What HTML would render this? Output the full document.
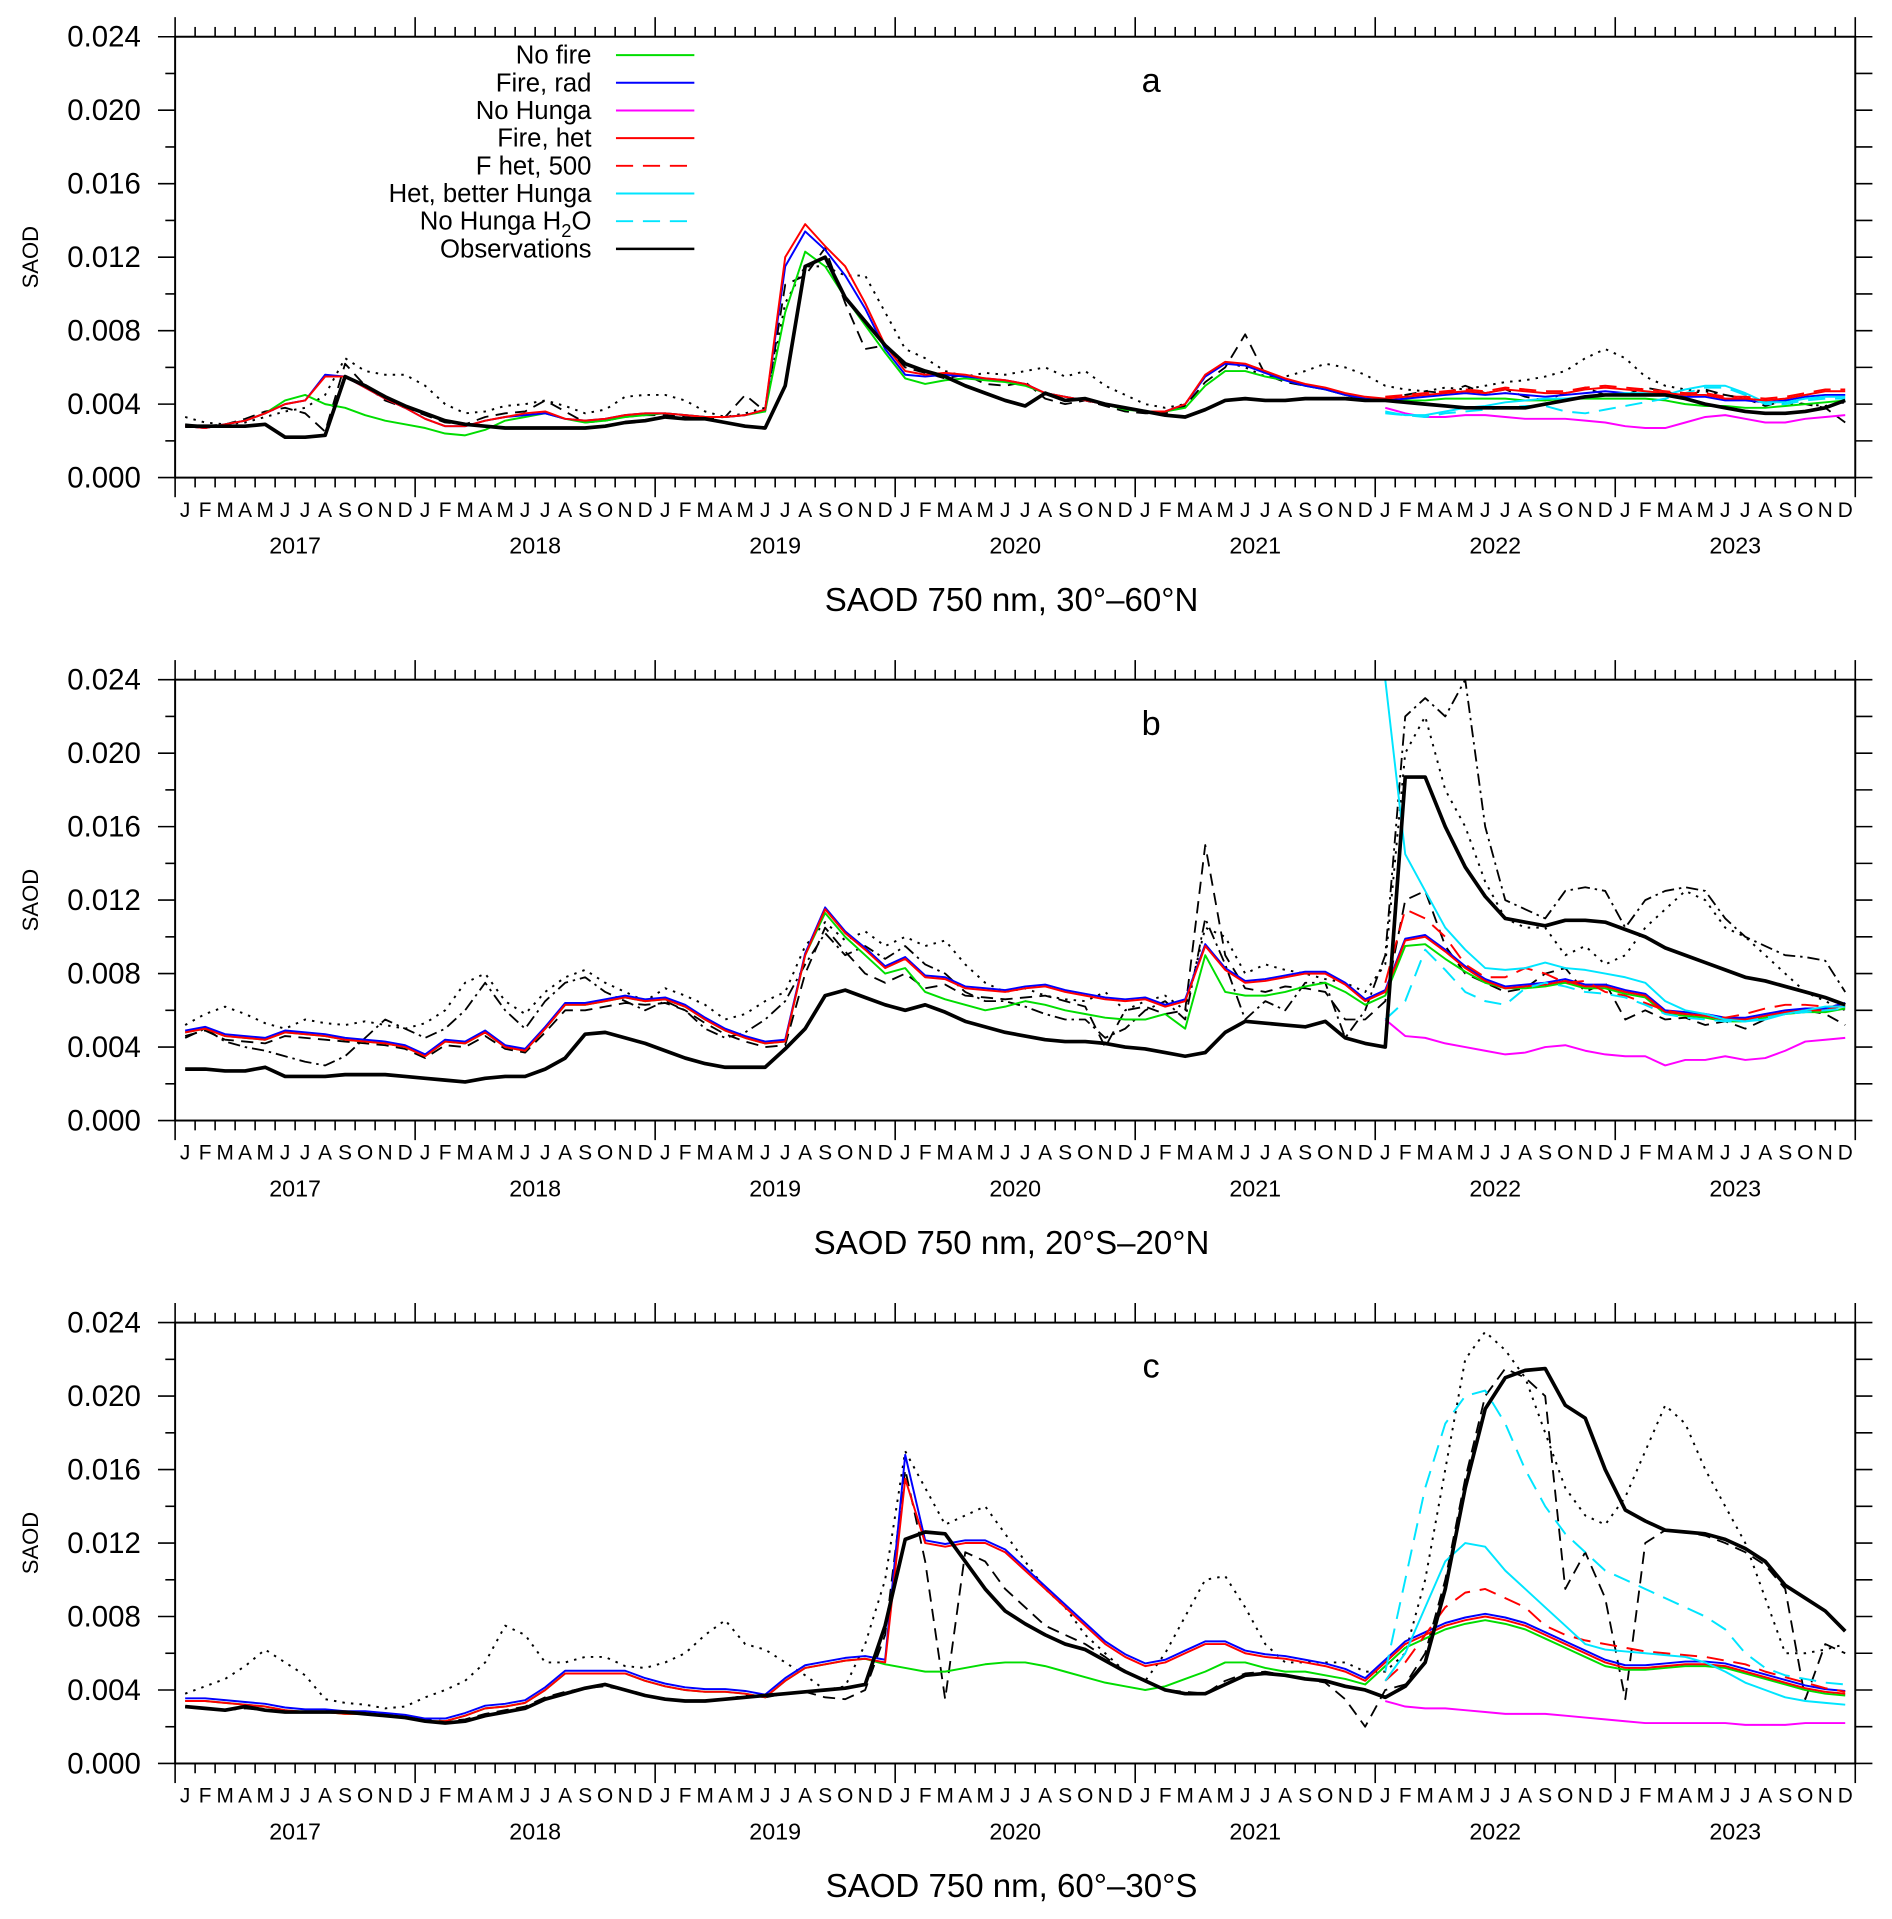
<!DOCTYPE html>
<html><head><meta charset="utf-8"><style>
html,body{margin:0;padding:0;background:#fff}
svg{display:block}
text{font-family:"Liberation Sans","DejaVu Sans",sans-serif;fill:#000}
</style></head><body>
<svg id="chart" width="1892" height="1919" viewBox="0 0 1545 1567" preserveAspectRatio="none" xmlns="http://www.w3.org/2000/svg"></svg>
<script>
const months=["J","F","M","A","M","J","J","A","S","O","N","D"];
const years=[2017,2018,2019,2020,2021,2022,2023];
const yTicks=[0,0.004,0.008,0.012,0.016,0.020,0.024];
const yTickLabels=["0.000","0.004","0.008","0.012","0.016","0.020","0.024"];
// panel a (units of 0.001)
const obsA=[2.8,2.8,2.8,2.8,2.9,2.2,2.2,2.3,5.5,5.0,4.4,3.9,3.5,3.1,2.9,2.8,2.7,2.7,2.7,2.7,2.7,2.8,3.0,3.1,3.3,3.2,3.2,3.0,2.8,2.7,5.0,11.5,12.0,9.8,8.5,7.2,6.2,5.8,5.5,5.0,4.6,4.2,3.9,4.6,4.2,4.3,4.0,3.8,3.6,3.4,3.3,3.7,4.2,4.3,4.2,4.2,4.3,4.3,4.3,4.2,4.2,4.1,4.0,3.9,3.8,3.8,3.8,3.8,4.0,4.2,4.4,4.5,4.5,4.5,4.5,4.3,4.0,3.8,3.6,3.5,3.5,3.6,3.8,4.2];
const noFireA=[2.8,2.7,2.9,3.1,3.5,4.2,4.5,4.0,3.8,3.4,3.1,2.9,2.7,2.4,2.3,2.6,3.1,3.3,3.5,3.2,3.0,3.1,3.3,3.4,3.5,3.4,3.3,3.3,3.4,3.6,9.0,12.3,11.5,9.8,8.3,6.8,5.4,5.1,5.3,5.4,5.3,5.2,5.0,4.6,4.4,4.2,4.0,3.7,3.6,3.6,3.8,5.0,5.8,5.8,5.5,5.3,5.0,4.8,4.5,4.3,4.2,4.2,4.2,4.3,4.3,4.3,4.3,4.2,4.2,4.3,4.3,4.3,4.3,4.3,4.2,4.0,3.9,3.9,3.8,3.8,3.9,4.0,4.1,4.2];
const fireRadA=[2.8,2.7,2.9,3.1,3.5,4.0,4.2,5.6,5.5,4.9,4.3,3.8,3.2,2.8,2.8,3.1,3.3,3.4,3.5,3.2,3.1,3.2,3.4,3.5,3.5,3.4,3.3,3.3,3.4,3.7,11.5,13.4,12.4,11.0,9.2,7.0,5.6,5.5,5.6,5.5,5.4,5.3,5.1,4.6,4.4,4.2,4.0,3.8,3.6,3.6,4.0,5.5,6.2,6.1,5.7,5.3,5.0,4.8,4.5,4.3,4.2,4.3,4.4,4.5,4.6,4.5,4.6,4.5,4.4,4.5,4.6,4.7,4.6,4.5,4.5,4.4,4.4,4.2,4.2,4.1,4.2,4.4,4.5,4.5];
const fireHetA=[2.8,2.7,2.9,3.1,3.5,4.0,4.2,5.5,5.5,4.9,4.3,3.8,3.2,2.8,2.8,3.1,3.3,3.5,3.6,3.2,3.1,3.2,3.4,3.5,3.5,3.4,3.3,3.3,3.4,3.7,12.0,13.8,12.6,11.5,9.5,7.2,5.8,5.6,5.7,5.6,5.4,5.3,5.1,4.6,4.4,4.2,4.0,3.8,3.6,3.6,4.0,5.6,6.3,6.2,5.8,5.4,5.1,4.9,4.6,4.4,4.3,4.4,4.5,4.6,4.7,4.6,4.8,4.7,4.6,4.6,4.8,4.9,4.8,4.7,4.6,4.5,4.5,4.3,4.3,4.2,4.3,4.5,4.7,4.7];
const fHet500A=fireHetA.map((v,i)=>i<60?null:v+0.1);
const betterHungaA=[...Array(60).fill(null),3.6,3.4,3.4,3.6,3.8,3.9,4.1,4.2,4.3,4.3,4.4,4.5,4.6,4.6,4.5,4.8,5.0,5.0,4.6,4.1,4.1,4.3,4.4,4.4];
const noH2OA=[...Array(60).fill(null),3.5,3.4,3.3,3.5,3.6,3.7,3.8,3.9,3.9,3.6,3.5,3.7,3.9,4.1,4.3,4.6,4.9,4.9,4.5,4.0,4.0,4.2,4.3,4.3];
const noHungaA=[...Array(60).fill(null),3.8,3.5,3.3,3.3,3.4,3.4,3.3,3.2,3.2,3.2,3.1,3.0,2.8,2.7,2.7,3.0,3.3,3.4,3.2,3.0,3.0,3.2,3.3,3.4];
const dotA=[3.3,3.0,2.9,3.0,3.3,3.6,3.8,4.5,6.5,5.8,5.6,5.6,5.0,4.0,3.5,3.6,3.9,4.0,4.2,3.9,3.5,3.7,4.4,4.5,4.5,4.2,3.6,3.3,3.5,3.8,9.5,11.5,11.5,11.0,11.0,9.0,7.0,6.5,5.8,5.5,5.7,5.6,5.8,6.0,5.5,5.8,5.0,4.5,4.0,3.8,4.0,5.5,6.3,6.0,5.5,5.5,5.8,6.2,6.0,5.6,5.0,4.8,4.7,4.9,4.8,5.0,5.2,5.3,5.5,5.8,6.5,7.0,6.5,5.5,5.0,4.8,4.7,4.5,4.3,4.2,4.0,4.0,3.9,4.1];
const dashA=[2.9,2.8,2.9,3.2,3.6,3.8,3.5,2.5,6.2,5.0,4.2,3.8,3.4,3.0,2.9,3.3,3.5,3.6,4.2,3.6,3.0,3.1,3.3,3.4,3.4,3.3,3.2,3.3,4.5,3.6,10.5,11.0,12.5,9.5,7.0,7.2,6.0,5.7,5.4,5.6,5.1,5.0,5.2,4.3,4.0,4.2,3.9,3.6,3.5,3.5,3.9,5.2,6.0,7.8,5.6,5.2,5.0,4.8,4.5,4.2,4.3,4.5,4.7,4.6,5.0,4.6,4.8,4.4,4.2,4.6,4.9,4.5,4.5,4.9,4.7,4.4,4.8,4.5,4.3,3.9,4.2,4.0,3.8,3.0];
// panel b
const obsB=[2.8,2.8,2.7,2.7,2.9,2.4,2.4,2.4,2.5,2.5,2.5,2.4,2.3,2.2,2.1,2.3,2.4,2.4,2.8,3.4,4.7,4.8,4.5,4.2,3.8,3.4,3.1,2.9,2.9,2.9,3.9,5.0,6.8,7.1,6.7,6.3,6.0,6.3,5.9,5.4,5.1,4.8,4.6,4.4,4.3,4.3,4.2,4.0,3.9,3.7,3.5,3.7,4.8,5.4,5.3,5.2,5.1,5.4,4.5,4.2,4.0,18.7,18.7,16.0,13.8,12.2,11.0,10.8,10.6,10.9,10.9,10.8,10.4,10.0,9.4,9.0,8.6,8.2,7.8,7.6,7.3,7.0,6.7,6.3];
const fireHetB=[4.8,5.0,4.6,4.5,4.4,4.8,4.7,4.6,4.4,4.3,4.2,4.0,3.5,4.3,4.2,4.8,4.0,3.8,5.0,6.3,6.3,6.5,6.7,6.5,6.6,6.2,5.5,4.9,4.5,4.2,4.3,9.0,11.5,10.2,9.3,8.3,8.8,7.8,7.7,7.2,7.1,7.0,7.2,7.3,7.0,6.8,6.6,6.5,6.6,6.2,6.5,9.5,8.2,7.5,7.6,7.8,8.0,8.0,7.4,6.5,7.0,9.8,10.0,9.2,8.3,7.6,7.2,7.3,7.4,7.6,7.3,7.3,7.0,6.8,5.9,5.8,5.7,5.5,5.5,5.7,5.9,6.0,6.0,6.3];
const fireRadB=fireHetB.map(v=>v+0.1);
const noFireB=[4.8,5.0,4.6,4.5,4.4,4.8,4.7,4.6,4.4,4.3,4.2,4.0,3.5,4.3,4.2,4.8,4.0,3.8,5.0,6.3,6.3,6.5,6.7,6.5,6.6,6.2,5.5,4.9,4.5,4.2,4.3,9.0,11.3,10.0,9.0,8.0,8.3,7.0,6.6,6.3,6.0,6.2,6.5,6.3,6.0,5.8,5.6,5.5,5.5,5.8,5.0,9.0,7.0,6.8,6.8,7.0,7.3,7.5,7.0,6.3,6.8,9.5,9.6,8.8,8.1,7.5,7.2,7.2,7.3,7.5,7.2,7.2,6.9,6.7,5.8,5.7,5.6,5.4,5.4,5.6,5.8,5.9,5.9,6.1];
const fHet500B=[...Array(60).fill(null),7.5,11.5,11.0,10.0,8.5,7.8,7.8,8.3,8.0,7.5,7.6,7.0,6.8,6.4,6.0,5.8,5.7,5.6,5.8,6.1,6.3,6.3,6.2,6.2];
const betterHungaB=[...Array(60).fill(null),24.0,14.5,12.5,10.5,9.3,8.3,8.2,8.3,8.6,8.3,8.2,8.0,7.8,7.5,6.5,6.0,5.8,5.5,5.4,5.5,5.8,6.0,6.2,6.2];
const noH2OB=[...Array(60).fill(null),5.5,6.5,9.3,8.2,7.0,6.5,6.3,7.2,7.5,7.3,7.0,6.9,6.7,6.3,5.8,5.6,5.5,5.4,5.4,5.6,5.8,5.9,6.0,6.1];
const noHungaB=[...Array(60).fill(null),5.5,4.6,4.5,4.2,4.0,3.8,3.6,3.7,4.0,4.1,3.8,3.6,3.5,3.5,3.0,3.3,3.3,3.5,3.3,3.4,3.8,4.3,4.4,4.5];
const dotB=[5.2,5.8,6.2,5.8,5.3,5.0,5.5,5.3,5.2,5.4,5.2,5.0,5.3,6.0,7.5,8.0,6.5,5.8,7.0,7.8,8.2,7.5,7.0,6.5,7.2,6.8,6.3,5.5,5.8,6.5,7.0,9.5,10.8,9.8,10.3,9.5,10.0,9.5,9.8,8.5,7.5,7.0,7.2,6.8,6.6,6.5,7.0,6.0,6.5,6.8,6.0,10.5,10.0,8.0,8.5,8.2,8.0,7.7,7.5,7.0,8.5,20.0,22.0,18.0,16.0,13.0,11.0,10.5,10.5,9.0,9.5,8.5,9.0,10.5,11.5,12.5,12.0,10.5,10.0,9.0,8.0,7.0,6.5,6.0];
const dashDotB=[4.5,5.0,4.3,4.0,3.8,3.5,3.2,3.0,3.5,4.5,5.5,5.0,4.5,5.0,6.0,7.5,6.0,5.0,6.5,7.5,7.8,7.0,6.5,6.0,6.5,6.0,5.0,4.5,4.8,5.5,6.5,8.5,10.2,9.0,9.5,8.8,9.5,8.5,8.0,7.0,6.5,6.5,6.2,5.8,5.5,5.5,4.5,5.0,6.0,6.5,5.5,11.0,8.5,5.5,6.5,6.0,7.5,7.5,4.5,6.0,9.0,22.0,23.0,22.0,24.0,16.0,12.0,11.5,11.0,12.5,12.7,12.5,10.5,12.0,12.5,12.7,12.5,11.0,10.0,9.5,9.0,8.9,8.7,7.0];
const dashB=[4.6,4.9,4.4,4.3,4.2,4.6,4.5,4.4,4.3,4.2,4.1,3.9,3.4,4.1,4.0,4.6,3.9,3.7,4.8,6.0,6.0,6.2,6.4,6.3,6.4,6.0,5.3,4.7,4.3,4.0,4.1,8.0,10.5,9.2,8.0,7.5,8.0,7.2,7.4,6.8,6.7,6.6,6.7,6.8,6.5,6.2,4.0,6.0,6.2,5.8,6.0,15.0,9.0,7.2,7.0,7.3,7.2,7.0,5.5,5.5,6.5,12.0,12.5,9.5,8.0,7.5,7.0,7.2,8.0,8.3,7.0,7.5,5.5,6.0,5.5,5.6,5.2,5.4,5.0,5.5,6.0,6.0,5.8,5.2];
// panel c
const obsC=[3.1,3.0,2.9,3.1,2.9,2.8,2.8,2.8,2.8,2.7,2.6,2.5,2.3,2.2,2.3,2.6,2.8,3.0,3.5,3.8,4.1,4.3,4.0,3.7,3.5,3.4,3.4,3.5,3.6,3.7,3.8,3.9,4.0,4.1,4.3,7.5,12.2,12.6,12.5,11.0,9.5,8.3,7.6,7.0,6.5,6.2,5.6,5.0,4.5,4.0,3.8,3.8,4.3,4.8,4.9,4.8,4.6,4.5,4.2,4.0,3.6,4.2,5.5,9.5,15.0,19.3,21.0,21.4,21.5,19.5,18.8,16.0,13.8,13.2,12.7,12.6,12.5,12.2,11.7,11.0,9.7,9.0,8.3,7.2];
const fireHetC=[3.4,3.4,3.3,3.2,3.1,2.9,2.8,2.8,2.7,2.7,2.6,2.5,2.3,2.3,2.6,3.0,3.1,3.3,4.0,4.9,4.9,4.9,4.9,4.5,4.2,4.0,3.9,3.9,3.8,3.6,4.5,5.2,5.4,5.6,5.7,5.5,15.5,12.0,11.8,12.0,12.0,11.5,10.5,9.5,8.5,7.5,6.5,5.8,5.3,5.5,6.0,6.5,6.5,6.0,5.8,5.7,5.5,5.3,5.0,4.5,5.5,6.5,7.0,7.5,7.8,8.0,7.8,7.5,7.0,6.5,6.0,5.5,5.2,5.2,5.3,5.4,5.4,5.3,5.0,4.7,4.4,4.1,3.9,3.8];
const fireRadC=fireHetC.map((v,i)=>i===36?16.8:v+0.15);
const noFireC=[3.4,3.4,3.3,3.2,3.1,2.9,2.8,2.8,2.7,2.7,2.6,2.5,2.3,2.3,2.6,3.0,3.1,3.3,4.0,4.9,4.9,4.9,4.9,4.5,4.2,4.0,3.9,3.9,3.8,3.6,4.5,5.2,5.4,5.6,5.7,5.4,5.2,5.0,5.0,5.2,5.4,5.5,5.5,5.3,5.0,4.7,4.4,4.2,4.0,4.2,4.6,5.0,5.5,5.5,5.2,5.0,5.0,4.8,4.6,4.3,5.3,6.3,6.8,7.3,7.6,7.8,7.6,7.3,6.8,6.3,5.8,5.3,5.1,5.1,5.2,5.3,5.3,5.2,4.9,4.6,4.3,4.0,3.8,3.7];
const fHet500C=[...Array(60).fill(null),4.5,5.5,7.0,8.5,9.3,9.5,9.0,8.5,7.5,7.0,6.7,6.5,6.3,6.1,6.0,5.9,5.8,5.6,5.4,5.0,4.7,4.4,4.1,3.9];
const betterHungaC=[...Array(60).fill(null),4.5,6.0,8.5,11.0,12.0,11.8,10.5,9.5,8.5,7.5,6.5,6.2,6.1,6.0,5.9,5.8,5.5,5.0,4.4,4.0,3.6,3.4,3.3,3.2];
const noH2OC=[...Array(60).fill(null),5.0,10.0,15.0,18.5,20.0,20.3,18.5,16.0,14.0,12.5,11.5,10.5,10.0,9.5,9.0,8.5,8.0,7.3,6.0,5.2,4.8,4.6,4.4,4.3];
const noHungaC=[...Array(60).fill(null),3.4,3.1,3.0,3.0,2.9,2.8,2.7,2.7,2.7,2.6,2.5,2.4,2.3,2.2,2.2,2.2,2.2,2.2,2.1,2.1,2.1,2.2,2.2,2.2];
const dotC=[3.8,4.2,4.6,5.3,6.2,5.5,4.8,3.5,3.3,3.2,3.0,3.1,3.6,4.0,4.5,5.5,7.5,7.0,5.5,5.5,5.8,5.8,5.3,5.2,5.5,6.0,7.0,7.8,6.5,6.2,5.5,4.8,4.0,4.2,6.5,10.0,17.0,15.0,13.0,13.5,14.0,12.5,11.0,9.5,8.5,7.0,6.0,5.0,4.5,6.0,8.0,10.0,10.2,8.5,6.5,5.5,5.5,5.5,5.5,5.0,5.0,6.0,10.0,16.0,22.0,23.5,22.5,21.0,18.0,15.0,13.5,13.0,14.5,17.0,19.5,18.5,16.0,14.0,12.0,9.0,6.0,6.0,6.2,6.5];
const dashC=[3.1,3.0,2.9,3.0,2.9,2.8,2.8,2.8,2.8,2.7,2.7,2.5,2.4,2.3,2.4,2.7,2.9,3.1,3.6,3.9,4.1,4.2,4.0,3.7,3.5,3.4,3.4,3.5,3.7,3.6,3.8,3.9,3.6,3.5,4.0,7.0,16.0,11.0,3.5,11.5,11.0,9.5,8.5,7.5,7.0,6.5,5.8,5.0,4.5,4.0,3.9,3.8,4.5,4.9,5.0,4.8,4.6,4.4,3.5,2.0,4.0,4.3,6.0,10.0,15.5,20.0,21.5,21.0,20.0,9.5,11.5,9.0,3.5,12.0,12.7,12.6,12.4,12.0,11.5,10.8,9.5,3.5,6.5,6.0];

const panels=[
 {id:"a",top:30,label:"a",title:"SAOD 750 nm, 30°\u201360°N",
  series:[{d:dotA,c:"#000",w:1.6,da:"2,5"},{d:dashA,c:"#000",w:1.5,da:"10,6"},{d:noHungaA,c:"#ff00ff",w:1.6},{d:noFireA,c:"#00dd00",w:1.6},{d:fireRadA,c:"#0000ff",w:1.6},{d:betterHungaA,c:"#00e5ff",w:1.6},{d:noH2OA,c:"#00e5ff",w:1.6,da:"14,8"},{d:fireHetA,c:"#ff0000",w:1.6},{d:fHet500A,c:"#ff0000",w:1.6,da:"14,8"},{d:obsA,c:"#000",w:3}]},
 {id:"b",top:555,label:"b",title:"SAOD 750 nm, 20°S\u201320°N",
  series:[{d:dotB,c:"#000",w:1.6,da:"2,5"},{d:dashDotB,c:"#000",w:1.5,da:"10,4,2,4"},{d:dashB,c:"#000",w:1.5,da:"10,6"},{d:noHungaB,c:"#ff00ff",w:1.6},{d:noFireB,c:"#00dd00",w:1.6},{d:fireRadB,c:"#0000ff",w:1.6},{d:fireHetB,c:"#ff0000",w:1.6},{d:fHet500B,c:"#ff0000",w:1.6,da:"14,8"},{d:betterHungaB,c:"#00e5ff",w:1.6},{d:noH2OB,c:"#00e5ff",w:1.6,da:"14,8"},{d:obsB,c:"#000",w:3}]},
 {id:"c",top:1080,label:"c",title:"SAOD 750 nm, 60°\u201330°S",
  series:[{d:dotC,c:"#000",w:1.6,da:"2,5"},{d:dashC,c:"#000",w:1.5,da:"10,6"},{d:noHungaC,c:"#ff00ff",w:1.6},{d:noFireC,c:"#00dd00",w:1.6},{d:fireRadC,c:"#0000ff",w:1.6},{d:fireHetC,c:"#ff0000",w:1.6},{d:fHet500C,c:"#ff0000",w:1.6,da:"14,8"},{d:betterHungaC,c:"#00e5ff",w:1.6},{d:noH2OC,c:"#00e5ff",w:1.6,da:"14,8"},{d:obsC,c:"#000",w:3}]}
];
const legendNames=["No fire","Fire, rad","No Hunga","Fire, het","F het, 500","Het, better Hunga","No Hunga H2O","Observations"];
const legendColors=["#00dd00","#0000ff","#ff00ff","#ff0000","#ff0000","#00e5ff","#00e5ff","#000"];
const legendDash=["","","","","14,8","","14,8",""];

const NS="http://www.w3.org/2000/svg";
const svg=document.getElementById("chart");
const L=143,R=1515,H=360,NM=84;
function mk(tag,attrs,parent){const e=document.createElementNS(NS,tag);for(const k in attrs)e.setAttribute(k,attrs[k]);(parent||svg).appendChild(e);return e;}
function xScale(i){return L+(i+0.5)*(R-L)/NM;}
function xEdge(i){return L+i*(R-L)/NM;}

panels.forEach(p=>{
 const g=mk("g",{});
 
 
 const B=p.top+H;
 const yScale=v=>B-(v/24)*H;
 const clip=mk("clipPath",{id:"clip"+p.id},g);
 mk("rect",{x:L,y:p.top,width:R-L,height:H},clip);
 const sg=mk("g",{"clip-path":"url(#clip"+p.id+")"},g);
 p.series.forEach((s,si)=>{
  let d="",pen=false;
  s.d.forEach((v,i)=>{if(v===null){pen=false;return;}d+=(pen?"L":"M")+xScale(i).toFixed(1)+","+yScale(v).toFixed(1);pen=true;});
  const el=mk("path",{d:d,fill:"none",stroke:s.c,"stroke-width":s.w,"stroke-linejoin":"round"},sg);
  if(s.da)el.setAttribute("stroke-dasharray",s.da);
  
  
 });
 const fr=mk("rect",{x:L,y:p.top,width:R-L,height:H,fill:"none",stroke:"#000","stroke-width":1.6},g);
 
 
 for(let i=0;i<=NM;i++){
  const x=xEdge(i),len=(i%12===0)?16:8;
  mk("line",{x1:x,x2:x,y1:p.top,y2:p.top-len,stroke:"#000","stroke-width":1.3},g);
  mk("line",{x1:x,x2:x,y1:B,y2:B+len,stroke:"#000","stroke-width":1.3},g);
 }
 for(let i=0;i<NM;i++){
  const t=mk("text",{x:xScale(i),y:B+32,"text-anchor":"middle","font-size":17},g);
  t.textContent=months[i%12];
  
  
 }
 years.forEach((yr,k)=>{
  const t=mk("text",{x:xScale(k*12+5.5),y:B+62,"text-anchor":"middle","font-size":19},g);
  t.textContent=yr;
  
  
 });
 for(let v=0;v<=24;v+=2){
  const y=yScale(v);
  mk("line",{x1:L,x2:L-(v%4===0?14:8),y1:y,y2:y,stroke:"#000","stroke-width":1.3},g);
  mk("line",{x1:R,x2:R+14,y1:y,y2:y,stroke:"#000","stroke-width":1.3},g);
 }
 yTicks.forEach((v,k)=>{
  const t=mk("text",{x:L-28,y:yScale(v*1000)+8,"text-anchor":"end","font-size":24},g);
  t.textContent=yTickLabels[k];
  
  
 });
 const yt=mk("text",{x:0,y:0,"text-anchor":"middle","font-size":18,transform:`translate(31,${p.top+H/2}) rotate(-90)`},g);
 yt.textContent="SAOD";
 
 
 const pl=mk("text",{x:940,y:p.top+45,"text-anchor":"middle","font-size":28},g);
 pl.textContent=p.label;
 
 
 const tt=mk("text",{x:826,y:B+109,"text-anchor":"middle","font-size":27},g);
 tt.textContent=p.title;
 
 
});
const lg=mk("g",{});


legendNames.forEach((n,k)=>{
 const y=45+k*22.6;
 const t=mk("text",{x:483,y:y+7,"text-anchor":"end","font-size":21},lg);
 if(n==="No Hunga H2O"){t.innerHTML='No Hunga H<tspan font-size="15" dy="6">2</tspan><tspan dy="-6">O</tspan>';}
 else t.textContent=n;
 
 
 const ln=mk("line",{x1:503,x2:567,y1:y,y2:y,stroke:legendColors[k],"stroke-width":k===7?2:1.6},lg);
 if(legendDash[k])ln.setAttribute("stroke-dasharray",legendDash[k]);
 
 
});
</script>
</body></html>
